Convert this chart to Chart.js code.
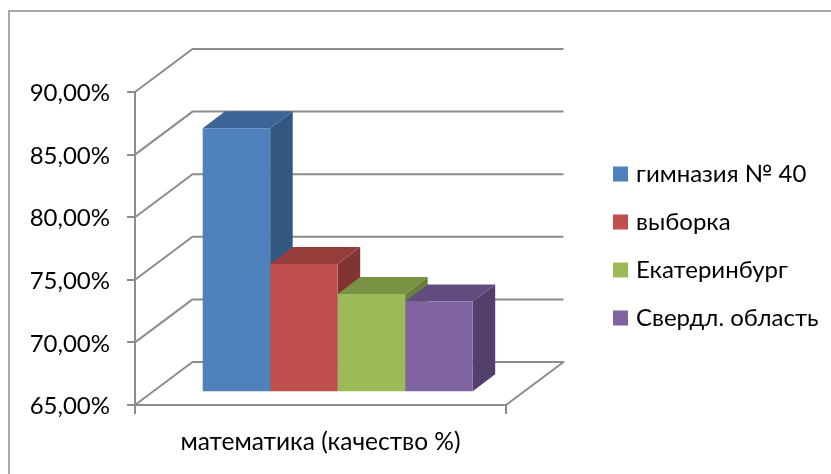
<!DOCTYPE html>
<html><head><meta charset="utf-8">
<script src="https://cdn.jsdelivr.net/npm/chart.js@4"></script>
<style>html,body{margin:0;padding:0;background:#fff}canvas{display:block}</style>
</head><body><canvas id="c" width="831" height="474"></canvas>
<script>
const categories = ["математика (качество %)"];
const seriesNames = ["гимназия № 40", "выборка", "Екатеринбург", "Свердл. область"];
const gymnasium = [86.1];
const sample = [75.25];
const yekaterinburg = [72.85];
const sverdlovsk = [72.25];
const frontColors = ["#4F81BD", "#C0504D", "#9BBB59", "#8064A2"];
const sideColors = ["#325780", "#823432", "#6A803A", "#533F6B"];
const topColors = ["#3E6497", "#953D3A", "#7A9244", "#624B7F"];
const axisMin = 65, axisMax = 90, axisStep = 5;
const gridColor = "#8C8C8C";
const fontName = "Lato, 'Open Sans', sans-serif";

const wallDepth = {dx: 57.5, dy: -43};
const barDepth = {dx: 22.5, dy: -17};
const barShift = {dx: 17.2, dy: -12.7};

const box3d = {
  id: "box3d",
  beforeDraw(chart) {
    const c = chart.ctx;
    c.save();
    c.fillStyle = "#fff"; c.fillRect(0, 0, chart.width, chart.height);
    c.strokeStyle = "#8C8C8C"; c.lineWidth = 1.5;
    c.beginPath(); c.moveTo(9, chart.height); c.lineTo(9, 11); c.lineTo(chart.width, 11); c.stroke();
    c.restore();
  },
  afterLayout(chart) {
    const lg = chart.legend;
    const w = lg.width, h = lg.height;
    lg.left = 593; lg.right = lg.left + w; lg.top = 138; lg.bottom = lg.top + h;
  },
  afterDatasetsUpdate(chart) {
    chart.data.datasets.forEach((d, i) => {
      chart.getDatasetMeta(i).data.forEach(el => {
        el.x += barShift.dx; el.y += barShift.dy; el.base += barShift.dy;
      });
    });
  },
  beforeDatasetsDraw(chart) {
    const c = chart.ctx, ys = chart.scales.y, xs = chart.scales.x;
    const L = xs.left, R = xs.right;
    c.save();
    c.strokeStyle = gridColor; c.lineWidth = 2; c.lineJoin = "round";
    ys.ticks.forEach(t => {
      const y = ys.getPixelForValue(t.value);
      c.beginPath();
      c.moveTo(L, y); c.lineTo(L + wallDepth.dx, y + wallDepth.dy); c.lineTo(R + wallDepth.dx, y + wallDepth.dy);
      if (t.value === axisMin) c.lineTo(R, y);
      c.stroke();
    });
    chart.data.datasets.forEach((d, i) => {
      chart.getDatasetMeta(i).data.forEach(el => {
        const x0 = el.x - el.width / 2, x1 = el.x + el.width / 2, top = el.y, bot = el.base;
        const dx = barDepth.dx, dy = barDepth.dy;
        c.fillStyle = sideColors[i];
        c.beginPath(); c.moveTo(x1, top); c.lineTo(x1 + dx, top + dy); c.lineTo(x1 + dx, bot + dy); c.lineTo(x1, bot); c.closePath(); c.fill();
        c.fillStyle = topColors[i];
        c.beginPath(); c.moveTo(x0, top); c.lineTo(x0 + dx, top + dy); c.lineTo(x1 + dx, top + dy); c.lineTo(x1, top); c.closePath(); c.fill();
      });
    });
    c.restore();
  }
};

new Chart(document.getElementById("c"), {
  type: "bar",
  data: {
    labels: categories,
    datasets: [gymnasium, sample, yekaterinburg, sverdlovsk].map((values, i) => ({
      label: seriesNames[i], data: values, backgroundColor: frontColors[i], borderWidth: 0, clip: false, base: axisMin
    }))
  },
  plugins: [box3d],
  options: {
    responsive: false, animation: false,
    devicePixelRatio: 1,
    layout: {padding: {left: 0, top: 92, right: 325, bottom: 0}},
    datasets: {bar: {categoryPercentage: 0.7278, barPercentage: 1}},
    plugins: {
      tooltip: {enabled: false},
      legend: {
        position: "chartArea", align: "start",
        labels: {boxWidth: 7, boxHeight: 7, padding: 24, color: "#000",
          font: {family: fontName, size: 24},
          generateLabels(chart) {
            return Chart.defaults.plugins.legend.labels.generateLabels(chart)
              .map(l => ({...l, lineWidth: 8, strokeStyle: l.fillStyle}));
          }}
      }
    },
    scales: {
      x: {
        afterFit(s) { s.height = 69; },
        grid: {color: gridColor, lineWidth: 2, drawOnChartArea: false, tickLength: 9},
        border: {color: gridColor, width: 2},
        ticks: {color: "#000", padding: 13, font: {family: fontName, size: 24.5}}
      },
      y: {
        min: axisMin, max: axisMax,
        afterFit(s) { s.width = 135; },
        grid: {color: gridColor, lineWidth: 2, drawOnChartArea: false, tickLength: 8},
        border: {color: gridColor, width: 2},
        ticks: {stepSize: axisStep, color: "#000", padding: 17, labelOffset: 1.5,
          font: {family: fontName, size: 24},
          callback: v => v.toFixed(2).replace(".", ",") + "%"}
      }
    }
  }
});
</script></body></html>
